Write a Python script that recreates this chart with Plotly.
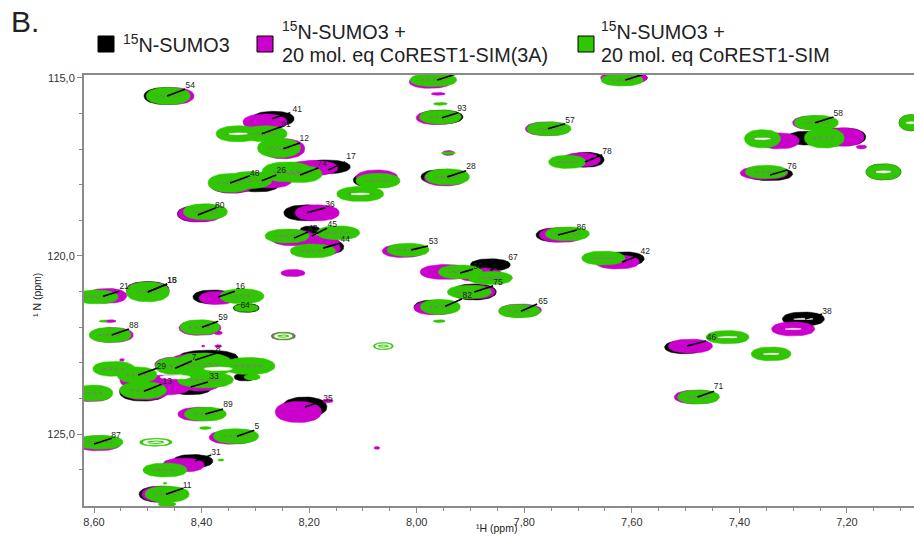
import numpy as np
import plotly.graph_objects as go

# ---- data: peak centre (1H, 15N ppm) and extent (ppm) ----
black_h = [8.466,8.267,8.170,8.343,8.295,8.077,8.408,8.204,8.198,8.156,7.951,7.955,7.608,7.685,7.274,7.208,7.344,7.132,7.080,7.741,7.863,7.614,7.893,7.966,7.809,7.281,7.502,8.379,8.317,8.388,8.421,8.319,8.509,8.208,8.416,8.477,8.500]
black_n = [115.51,116.15,117.50,117.98,118.03,117.87,118.82,118.79,119.27,119.75,117.78,116.10,115.00,117.30,116.69,116.66,117.70,117.64,116.26,119.41,120.25,120.08,121.01,121.43,121.55,121.77,122.56,121.15,121.46,122.87,123.71,123.40,123.82,124.24,125.76,126.69,120.93]
black_w = [.082,.078,.093,.082,.074,.082,.074,.086,.037,.041,.082,.082,.074,.067,.074,.086,.086,.065,.046,.074,.074,.074,.082,.078,.074,.078,.074,.074,.048,.112,.078,.041,.087,.082,.074,.078,.078]
black_t = [.48,.42,.39,.51,.34,.42,.45,.45,.22,.34,.42,.39,.28,.42,.39,.51,.37,.45,.45,.39,.34,.39,.45,.39,.34,.39,.37,.39,.25,.45,.37,.22,.51,.56,.37,.45,.42]

magenta_h = [8.455,8.282,8.248,8.193,8.074,8.343,8.273,8.403,8.185,8.230,8.180,8.170,8.025,7.975,7.960,7.962,7.941,7.947,7.615,7.757,7.694,7.264,7.326,7.231,7.205,7.173,7.354,7.132,7.080,7.731,7.627,7.947,7.882,7.966,7.891,7.807,7.300,7.491,7.480,8.576,8.500,8.371,8.230,8.570,8.567,8.403,8.369,8.248,8.397,8.369,8.548,8.446,8.403,8.524,8.464,8.505,8.403,8.604,8.403,8.343,8.593,8.220,8.165,8.074,8.434,8.472]
magenta_n = [115.51,116.24,116.99,117.53,117.81,117.98,117.87,118.82,118.79,119.49,119.64,119.78,119.86,115.11,115.45,116.12,117.11,117.81,115.00,116.43,117.30,116.26,116.77,116.66,116.66,116.94,117.67,117.64,116.26,119.41,120.17,120.45,120.53,121.46,121.01,121.52,122.05,122.53,123.96,121.12,120.98,121.18,120.48,121.83,122.22,122.02,122.16,122.25,122.53,122.53,122.92,123.06,122.98,123.48,123.62,123.79,123.57,123.88,124.44,125.09,125.26,124.38,124.07,125.39,125.87,126.69]
magenta_w = [.082,.082,.080,.093,.078,.082,.082,.082,.082,.082,.074,.056,.078,.078,.026,.078,.022,.078,.086,.082,.071,.074,.074,.074,.074,.019,.089,.056,.037,.082,.082,.093,.084,.078,.074,.078,.080,.082,.082,.074,.080,.067,.045,.022,.080,.078,.015,.045,.006,.013,.009,.082,.112,.056,.093,.089,.074,.074,.082,.086,.086,.086,.019,.011,.078,.078]
magenta_t = [.48,.45,.56,.42,.45,.51,.45,.45,.45,.45,.45,.39,.37,.37,.08,.39,.14,.45,.37,.39,.39,.39,.45,.51,.51,.11,.37,.34,.28,.42,.39,.42,.39,.39,.39,.34,.39,.39,.39,.42,.51,.37,.20,.08,.42,.42,.11,.22,.06,.08,.08,.45,.51,.45,.56,.51,.45,.42,.39,.39,.42,.59,.11,.08,.39,.45]

green_h = [8.462,8.332,8.282,8.256,8.347,8.310,8.241,8.217,8.072,8.105,8.393,8.146,8.241,8.193,8.016,7.969,7.956,7.956,7.941,7.943,7.618,7.754,7.720,7.257,7.357,7.242,7.350,7.132,7.080,7.720,7.653,7.919,7.863,7.902,7.956,7.809,7.422,7.341,7.476,8.596,8.500,8.325,8.317,8.583,8.570,8.403,7.958,8.397,8.449,8.563,8.520,8.312,8.393,8.509,8.602,8.306,8.393,8.336,8.589,8.393,8.468,8.464,8.464,8.364,8.468]
green_n = [115.51,116.57,116.57,116.97,117.95,117.87,117.64,117.70,117.89,118.26,118.76,119.35,119.44,119.86,119.83,115.06,116.10,115.73,117.11,117.78,115.06,116.43,117.36,116.26,116.71,116.69,117.64,117.64,116.26,119.38,120.06,120.45,120.62,121.01,121.43,121.55,122.28,122.75,123.96,121.15,121.01,121.13,121.46,121.83,122.22,122.00,121.83,123.06,123.09,123.17,123.34,123.09,123.48,123.77,123.85,123.40,124.44,125.06,125.23,124.83,126.01,126.69,126.97,125.73,126.38]
green_w = [.082,.082,.082,.080,.082,.082,.093,.082,.082,.087,.082,.080,.082,.084,.078,.087,.078,.026,.026,.082,.078,.082,.069,.082,.067,.074,.078,.065,.046,.082,.080,.082,.082,.082,.074,.078,.080,.074,.078,.082,.080,.082,.045,.015,.078,.074,.022,.112,.074,.078,.074,.097,.104,.087,.074,.030,.078,.084,.086,.022,.082,.082,.033,.011,.007]
green_t = [.48,.45,.45,.53,.53,.48,.56,.48,.42,.42,.45,.39,.39,.39,.37,.37,.39,.08,.08,.45,.34,.39,.37,.42,.51,.56,.37,.45,.45,.39,.39,.39,.37,.37,.42,.37,.37,.39,.39,.39,.56,.42,.22,.06,.42,.42,.08,.67,.48,.42,.45,.48,.45,.48,.45,.17,.39,.42,.39,.08,.39,.45,.14,.06,.06]

# weak peaks drawn as open rings in the last spectrum
ring_h = [8.248,8.062,8.485]
ring_n = [122.25,122.53,125.23]
ring_w = [.041,.037,.060]
ring_t = [.20,.20,.22]

# innermost contours and gaps between contour stacks that read as white streaks
streak_h = [7.422,7.341,7.300,7.281,8.105,8.332,8.449,8.369,7.132,7.080,7.357]
streak_n = [122.28,122.75,122.05,121.77,118.26,116.57,123.40,123.17,117.64,116.26,116.71]
streak_w = [.036,.030,.030,.036,.034,.034,.056,.052,.028,.020,.030]
streak_t = [.04,.04,.04,.04,.05,.05,.11,.10,.06,.06,.05]

# peak assignment labels and their leader lines
label_text = ["54","41","91","12","17","74","48","26","80","36","43","45","44","53","93","28","57","78","58","76","86","42","67","50","75","82","65","46","38","71","21","15","18","16","64","59","88","8","7","29","33","13","89","5","87","35","31","11"]
label_h = [8.421,8.222,8.243,8.209,8.122,8.176,8.301,8.252,8.366,8.161,8.193,8.157,8.133,7.969,7.916,7.899,7.715,7.646,7.216,7.302,7.694,7.575,7.821,7.886,7.849,7.906,7.765,7.452,7.237,7.439,8.544,8.455,8.455,8.328,8.319,8.360,8.526,8.369,8.414,8.475,8.377,8.464,8.351,8.297,8.559,8.165,8.373,8.427]
label_n = [115.22,115.90,116.32,116.71,117.22,117.42,117.70,117.61,118.60,118.57,119.24,119.13,119.55,119.61,115.87,117.50,116.21,117.08,116.01,117.50,119.22,119.89,120.06,120.31,120.76,121.13,121.29,122.31,121.58,123.68,120.87,120.70,120.70,120.87,121.41,121.74,121.97,122.64,122.87,123.12,123.40,123.54,124.19,124.81,125.06,124.02,125.54,126.46]
start_h = [8.464,8.269,8.288,8.248,8.165,8.217,8.347,8.288,8.407,8.204,8.228,8.195,8.174,8.010,7.953,7.943,7.756,7.687,7.259,7.343,7.737,7.618,7.863,7.919,7.893,7.947,7.806,7.497,7.278,7.478,8.583,8.500,8.500,8.369,8.319,8.399,8.567,8.412,8.449,8.518,8.420,8.507,8.393,8.334,8.600,8.208,8.412,8.466]
start_n = [115.51,116.15,116.57,116.99,117.59,117.73,117.95,117.89,118.85,118.79,119.50,119.44,119.78,119.83,116.12,117.78,116.43,117.36,116.26,117.73,119.41,120.17,120.40,120.48,121.01,121.41,121.55,122.53,121.77,123.96,121.13,121.01,121.01,121.15,121.41,122.00,122.22,122.92,123.15,123.34,123.68,123.80,124.44,125.06,125.28,124.24,125.76,126.69]
end_h = [8.431,8.235,8.248,8.217,8.133,8.183,8.310,8.261,8.373,8.170,8.202,8.167,8.142,7.979,7.923,7.908,7.724,7.655,7.225,7.311,7.702,7.584,7.830,7.895,7.858,7.916,7.776,7.462,7.246,7.447,8.553,8.464,8.464,8.338,8.319,8.369,8.535,8.373,8.418,8.483,8.388,8.474,8.360,8.302,8.567,8.174,8.382,8.434]
end_n = [115.32,115.98,116.35,116.83,117.36,117.53,117.75,117.73,118.65,118.65,119.33,119.22,119.64,119.72,115.98,117.61,116.29,117.16,116.10,117.59,119.27,119.97,120.17,120.37,120.84,121.21,121.35,122.39,121.63,123.80,120.99,120.79,120.79,120.99,121.41,121.83,122.05,122.73,122.95,123.15,123.54,123.60,124.30,124.89,125.12,124.07,125.59,126.52]
# leader lines of the two peaks cut by the top edge
cut_start_h = [7.962, 7.612]
cut_start_n = [115.06, 115.06]
cut_end_h = [7.928, 7.578]
cut_end_n = [114.90, 114.90]

x_ticks = [8.6, 8.4, 8.2, 8.0, 7.8, 7.6, 7.4, 7.2]
x_labels = ["8,60", "8,40", "8,20", "8,00", "7,80", "7,60", "7,40", "7,20"]
x_minor = [8.55,8.5,8.45,8.35,8.3,8.25,8.15,8.1,8.05,7.95,7.9,7.85,7.75,7.7,7.65,7.55,7.5,7.45,7.35,7.3,7.25,7.15,7.1]
y_ticks = [115, 120, 125]
y_labels = ["115,0", "120,0", "125,0"]
y_minor = [116,117,118,119,121,122,123,124,126]

BLACK, MAGENTA, GREEN = "#000000", "#cc00cc", "#2fc800"
W, H = 914, 540
L, R, T, B = 84, 914, 75, 506

theta = np.linspace(0, 2 * np.pi, 49)


def ellipses(xs, ys, ws, ts, sx=1.0, sy=1.0):
    """Closed ellipse outlines, centre + extent, separated by gaps."""
    px_, py_ = [], []
    for x, y, w, t in zip(xs, ys, ws, ts):
        c, s = np.cos(theta), np.sin(theta)
        ex = np.sign(c) * np.abs(c) ** 0.9
        ey = np.sign(s) * np.abs(s) ** 0.9
        px_ += list(x + ex * w / 2 * sx) + [None]
        py_ += list(y + ey * t / 2 * sy) + [None]
    return px_, py_


def blobs(xs, ys, ws, ts, color, sx=1.0, sy=1.0):
    a, b = ellipses(xs, ys, ws, ts, sx, sy)
    return go.Scatter(x=a, y=b, mode="lines", fill="toself", fillcolor=color,
                      line=dict(color=color, width=0.5), hoverinfo="skip", showlegend=False)


def core(xs, ys, ws, ts, color, dash="dot", sx=0.55, sy=0.12, width=0.8):
    keep = [i for i, w in enumerate(ws) if w > 0.05]
    a, b = ellipses([xs[i] for i in keep], [ys[i] for i in keep],
                    [ws[i] for i in keep], [ts[i] for i in keep], sx, sy)
    return go.Scatter(x=a, y=b, mode="lines", line=dict(color=color, width=width, dash=dash),
                      hoverinfo="skip", showlegend=False)


fig = go.Figure()
fig.add_trace(blobs(black_h, black_n, black_w, black_t, BLACK))
fig.add_trace(blobs(magenta_h, magenta_n, magenta_w, magenta_t, MAGENTA))
fig.add_trace(blobs(green_h, green_n, green_w, green_t, GREEN))
fig.add_trace(core(green_h, green_n, green_w, green_t, "#a05aa8"))
fig.add_trace(blobs(streak_h, streak_n, streak_w, streak_t, "#ffffff"))
# open rings
fig.add_trace(blobs(ring_h, ring_n, ring_w, ring_t, GREEN))
fig.add_trace(blobs(ring_h, ring_n, ring_w, ring_t, "#ffffff", sx=0.8, sy=0.7))
fig.add_trace(core(ring_h, ring_n, [w * 2 for w in ring_w], ring_t, GREEN, dash="solid", sx=0.25, sy=0.3, width=1))

# leader lines
lx, ly = [], []
for a, b, c, d in zip(start_h + cut_start_h, start_n + cut_start_n, end_h + cut_end_h, end_n + cut_end_n):
    lx += [a, c, None]
    ly += [b, d, None]
fig.add_trace(go.Scatter(x=lx, y=ly, mode="lines", line=dict(color="#000000", width=1.6),
                         hoverinfo="skip", showlegend=False))
fig.add_trace(go.Scatter(x=label_h, y=label_n, mode="text", text=label_text,
                         textfont=dict(family="Liberation Sans", size=8.5, color="#222222"),
                         textposition="middle center", hoverinfo="skip", showlegend=False))

AX = "#8a8a8a"
fig.update_layout(
    width=W, height=H, autosize=False,
    margin=dict(l=L, r=W - R, t=T, b=H - B),
    paper_bgcolor="white", plot_bgcolor="white",
    font=dict(family="Liberation Sans", color="#333333"),
    showlegend=False,
    xaxis=dict(range=[8.6186, 7.0753], autorange=False, showgrid=False, zeroline=False,
               showline=True, linecolor=AX, linewidth=2, mirror=True,
               tickmode="array", tickvals=x_ticks, ticktext=x_labels,
               ticks="outside", ticklen=5, tickwidth=1, tickcolor=AX,
               tickfont=dict(size=11, color="#333333"),
               minor=dict(tickmode="array", tickvals=x_minor, ticks="outside", ticklen=3,
                          tickwidth=1, tickcolor=AX, showgrid=False)),
    yaxis=dict(range=[127.02, 114.92], autorange=False, showgrid=False, zeroline=False,
               showline=True, linecolor=AX, linewidth=2,
               tickmode="array", tickvals=y_ticks, ticktext=y_labels,
               ticks="outside", ticklen=5, tickwidth=1, tickcolor=AX,
               tickfont=dict(size=11, color="#333333"),
               minor=dict(tickmode="array", tickvals=y_minor, ticks="outside", ticklen=3,
                          tickwidth=1, tickcolor=AX, showgrid=False)),
)


def px(x):
    return (x - L) / (R - L)


def py(y):
    return (B - y) / (B - T)


def note(x, y, text, size, xanchor="left", angle=0, color="#222222"):
    fig.add_annotation(xref="paper", yref="paper", x=px(x), y=py(y), text=text, showarrow=False,
                       xanchor=xanchor, yanchor="middle", align="left", textangle=angle,
                       font=dict(family="Liberation Sans", size=size, color=color), borderpad=0)


note(10, 22, "B.", 30)
note(122, 43, "<sup>15</sup>N-SUMO3", 19.8)
note(281, 30, "<sup>15</sup>N-SUMO3 +", 19.8)
note(281, 55, "20 mol. eq CoREST1-SIM(3A)", 19.8)
note(600, 30, "<sup>15</sup>N-SUMO3 +", 19.8)
note(600, 55, "20 mol. eq CoREST1-SIM", 19.8)
note(37, 295, "\u00b9 N (ppm)", 10.5, xanchor="center", angle=-90)
note(496, 528, "\u00b9H (ppm)", 10.5, xanchor="center")

for x0, colr in [(98, BLACK), (257, MAGENTA), (578, GREEN)]:
    fig.add_shape(type="rect", xref="paper", yref="paper",
                  x0=px(x0), x1=px(x0 + 16), y0=py(52), y1=py(36),
                  fillcolor=colr, line=dict(color="#000000", width=1))

fig.write_html("out.html", default_width=f"{W}px", default_height=f"{H}px",
               config={"displayModeBar": False},
               post_script="document.documentElement.style.margin='0';document.body.style.margin='0';document.body.style.overflow='hidden';")
